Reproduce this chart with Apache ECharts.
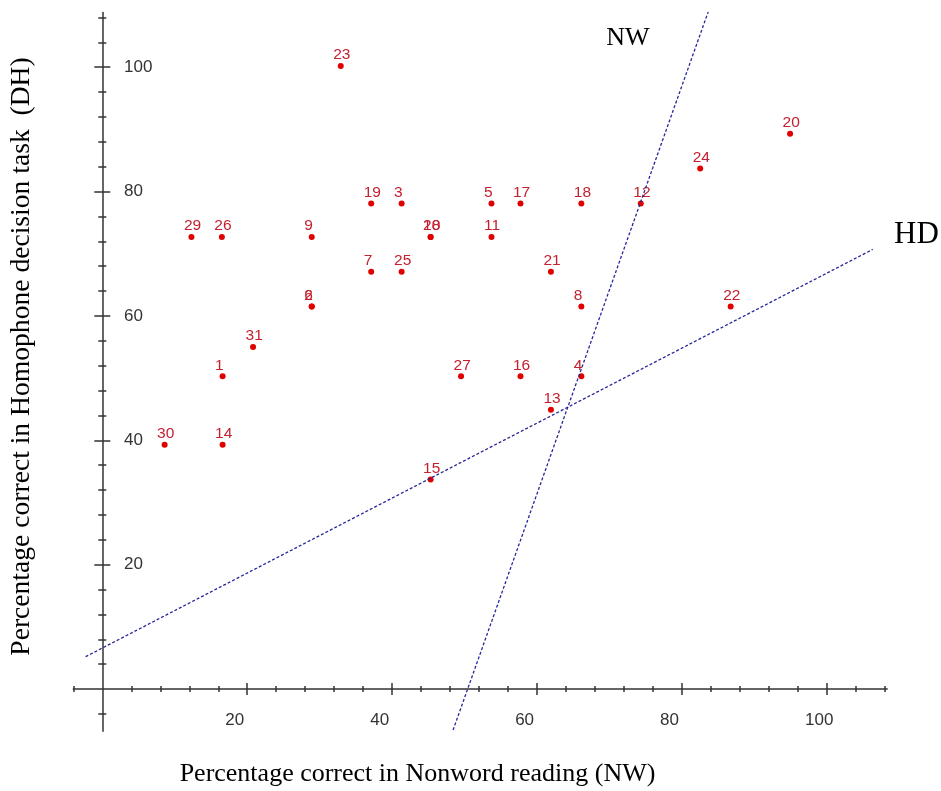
<!DOCTYPE html>
<html>
<head>
<meta charset="utf-8">
<script src="https://cdn.jsdelivr.net/npm/echarts@6/dist/echarts.min.js"></script>
<style>html,body{margin:0;padding:0;background:#fff}#chart{width:941px;height:791px}</style>
</head>
<body>
<div id="chart"></div>
<script>
// ---- data ----
const subjectIds = ['1','2','3','4','5','6','7','8','9','10','11','12','13','14','15','16','17','18','19','20','21','22','23','24','25','26','27','28','29','30','31'];
const nwScores = [16.6,28.9,41.3,66.1,53.7,28.9,37.1,66.1,28.9,45.3,53.7,74.3,61.9,16.6,45.3,57.7,57.7,66.1,37.1,94.9,61.9,86.7,32.9,82.5,41.3,16.5,49.5,45.3,12.3,8.6,20.8];
const hdScores = [50.3,61.5,78.1,50.3,78.1,61.5,67.1,61.5,72.7,72.7,72.7,78.1,44.9,39.3,33.7,50.3,78.1,78.1,78.1,89.3,67.1,61.5,100.2,83.7,67.1,72.7,50.3,72.7,72.7,39.3,55.0];
// regression lines (end points)
const nwLineX = [48.4, 83.6];
const nwLineY = [-6.6, 108.9];
const hdLineX = [-2.3, 106.3];
const hdLineY = [5.2, 70.7];
// axis ticks and labels
const xMinorTicks = [-4,4,8,12,16,24,28,32,36,44,48,52,56,64,68,72,76,84,88,92,96,104,108];
const xMajorTicks = [20,40,60,80,100];
const xTickLabels = [20,40,60,80,100];
const yMinorTicks = [-4,4,8,12,16,24,28,32,36,44,48,52,56,64,68,72,76,84,88,92,96,104,108];
const yMajorTicks = [20,40,60,80,100];
const yTickLabels = [20,40,60,80,100];

const xMin = -4, xMax = 108.3, yMin = -6.8, yMax = 108.8;
const axisColor = '#333333';

function makeAxis(kind, ticks, inside, len, showLine, labels) {
  const isX = kind === 'x';
  const ax = {
    type: 'value', min: isX ? xMin : yMin, max: isX ? xMax : yMax,
    position: isX ? 'bottom' : 'left',
    splitLine: { show: false },
    axisLine: { show: showLine, onZero: true, onZeroAxisIndex: 0, lineStyle: { color: axisColor, width: 1.5 } },
    axisTick: { show: true, inside: inside, length: len, customValues: ticks, lineStyle: { color: axisColor, width: 1.5 } },
    axisLabel: { show: false },
    axisPointer: { show: false }
  };
  if (labels) {
    if (isX) {
      ax.axisLabel = {
        show: true, customValues: labels, margin: -19,
        formatter: v => '{a|' + v + '}',
        rich: { a: { width: 44, align: 'left', fontSize: 17, fontFamily: 'Liberation Sans', color: '#333' } }
      };
    } else {
      ax.axisLabel = {
        show: true, customValues: labels, inside: true, margin: 50.7,
        fontSize: 17, fontFamily: 'Liberation Sans', color: '#333'
      };
    }
  }
  return ax;
}

const chart = echarts.init(document.getElementById('chart'), null, { renderer: 'canvas' });
const points = subjectIds.map((id, i) => [nwScores[i], hdScores[i], id]);

chart.setOption({
  animation: false,
  backgroundColor: '#ffffff',
  grid: { left: 73.3, right: 53.8, top: 12.5, bottom: 59.7, containLabel: false },
  xAxis: [
    makeAxis('x', xMajorTicks, false, 6, true, xTickLabels),
    makeAxis('x', xMajorTicks, true, 6, false, null),
    makeAxis('x', xMinorTicks, false, 3, false, null),
    makeAxis('x', xMinorTicks, true, 3, false, null)
  ],
  yAxis: [
    makeAxis('y', yMajorTicks, false, 8, true, yTickLabels),
    makeAxis('y', yMajorTicks, true, 8, false, null),
    makeAxis('y', yMinorTicks, false, 4, false, null),
    makeAxis('y', yMinorTicks, true, 4, false, null)
  ],
  series: [
    {
      type: 'line', xAxisIndex: 0, yAxisIndex: 0, silent: true, showSymbol: false,
      data: nwLineX.map((x, i) => [x, nwLineY[i]]),
      lineStyle: { color: '#26269a', width: 1.3, type: [3, 2] }
    },
    {
      type: 'line', xAxisIndex: 0, yAxisIndex: 0, silent: true, showSymbol: false,
      data: hdLineX.map((x, i) => [x, hdLineY[i]]),
      lineStyle: { color: '#26269a', width: 1.3, type: [3, 2] }
    },
    {
      type: 'scatter', xAxisIndex: 0, yAxisIndex: 0, symbol: 'circle', symbolSize: 6,
      itemStyle: { color: '#e00000', opacity: 1 },
      data: points,
      label: {
        show: true, position: 'top', distance: 0, align: 'left', offset: [-7.5, 0],
        formatter: p => p.data[2],
        color: '#c42030', fontSize: 15.5, fontFamily: 'Liberation Sans'
      }
    }
  ],
  graphic: [
    { type: 'text', x: 417.5, y: 774, style: { text: 'Percentage correct in Nonword reading (NW)', font: '26px "Liberation Serif"', fill: '#000', align: 'center', verticalAlign: 'middle' } },
    { type: 'text', x: 22, y: 356.5, rotation: Math.PI / 2, style: { text: 'Percentage correct in Homophone decision task  (DH)', font: '27.6px "Liberation Serif"', fill: '#000', align: 'center', verticalAlign: 'middle' } },
    { type: 'text', x: 628, y: 38.5, style: { text: 'NW', font: '26px "Liberation Serif"', fill: '#000', align: 'center', verticalAlign: 'middle' } },
    { type: 'text', x: 916.5, y: 234.5, style: { text: 'HD', font: '31px "Liberation Serif"', fill: '#000', align: 'center', verticalAlign: 'middle' } }
  ]
});
</script>
</body>
</html>
